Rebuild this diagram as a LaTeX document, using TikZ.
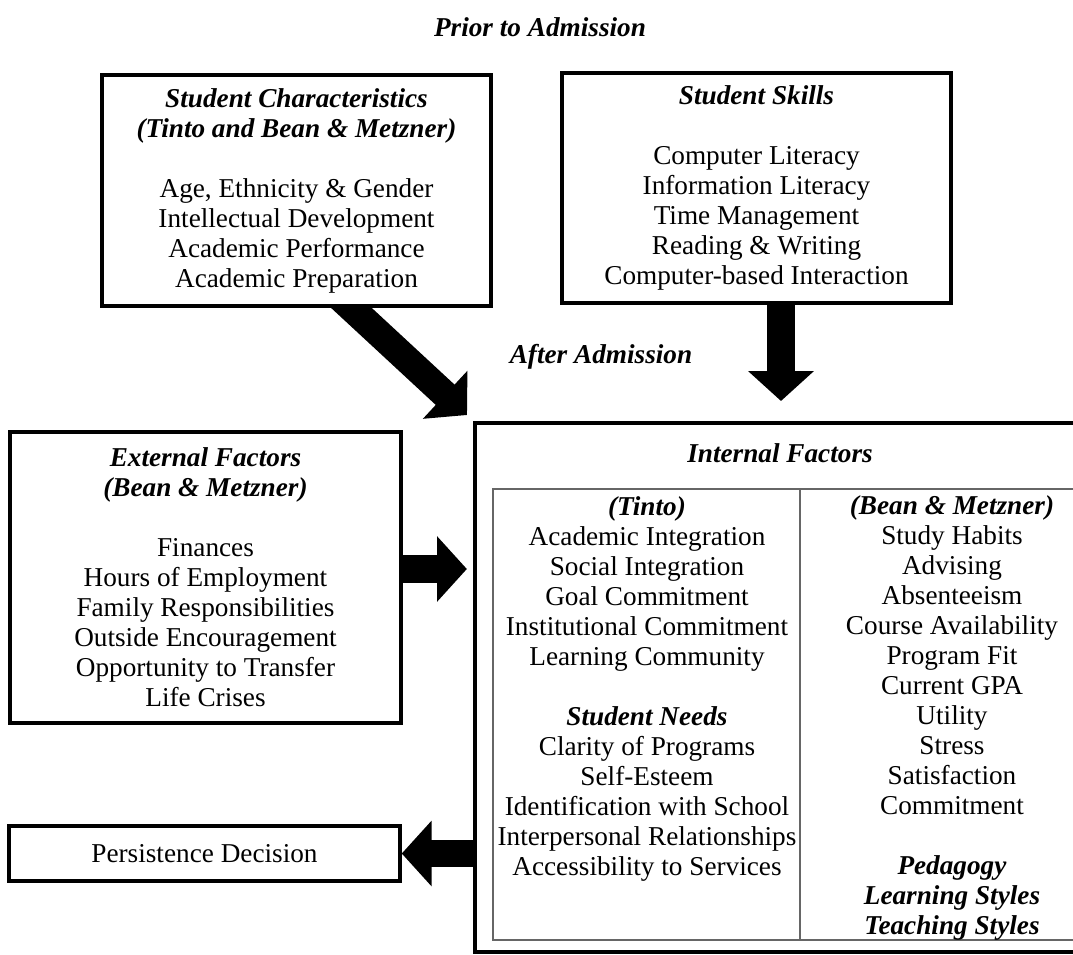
\documentclass[tikz,border=0pt]{standalone}
\usepackage{fontspec}
\setmainfont{Liberation Serif}
\usetikzlibrary{arrows.meta,backgrounds}
\newcommand{\hd}[1]{\textbf{\textit{#1}}}
\tikzset{every node/.style={font=\fontsize{12.8}{14.1}\selectfont},
  factorbox/.style={draw, line width=1.6pt, fill=white, align=center, inner sep=0pt},
  stage/.style={font=\fontsize{12.8}{14.1}\selectfont\bfseries\itshape},
  column/.style={align=center, inner sep=0pt},
  fatarrow/.style={line width=13pt, -{Triangle[length=14pt,width=30pt]}},
  tableline/.style={draw=black!60, line width=0.7pt}}

\begin{document}
\begin{tikzpicture}[x=0.47pt,y=-0.47pt]
  \useasboundingbox (0,0) rectangle (1073,954);
  % prior to admission
  \node[stage] (prior) at (540,27) {Prior to Admission};
  \node[factorbox, minimum width=182.8pt, minimum height=108.6pt] (chars) at (296.5,190.5)
    {\hd{Student Characteristics}\\ \hd{(Tinto and Bean \& Metzner)}\\[14.1pt]
     Age, Ethnicity \& Gender\\ Intellectual Development\\ Academic Performance\\ Academic Preparation};
  \node[factorbox, minimum width=182.8pt, minimum height=108.1pt] (skills) at (756.5,188)
    {\hd{Student Skills}\\[14.1pt]
     Computer Literacy\\ Information Literacy\\ Time Management\\ Reading \& Writing\\ Computer-based Interaction};
  % after admission
  \node[stage] (after) at (601,357) {After Admission};
  \node[factorbox, minimum width=183.8pt, minimum height=136.8pt] (ext) at (205.5,577.5)
    {\hd{External Factors}\\ \hd{(Bean \& Metzner)}\\[14.1pt]
     Finances\\ Hours of Employment\\ Family Responsibilities\\ Outside Encouragement\\ Opportunity to Transfer\\ Life Crises};
  \node[factorbox, minimum width=183.8pt, minimum height=25.9pt] (pd) at (204.5,853.5) {Persistence Decision};
  \begin{scope}
    \clip (0,0) rectangle (1073,954);
    \node[factorbox, minimum width=289.1pt, minimum height=248.6pt] (int) at (782.5,687.5) {};
    \draw[tableline] (493,489) rectangle (1080,940);
    \draw[tableline] (800,489) -- (800,940);
  \end{scope}
  \node[stage] (inttitle) at (780,453) {Internal Factors};
  \node[column] (tinto) at (647,689)
    {\hd{(Tinto)}\\ Academic Integration\\ Social Integration\\ Goal Commitment\\ Institutional Commitment\\ Learning Community\\[14.1pt]
     \hd{Student Needs}\\ Clarity of Programs\\ Self-Esteem\\ Identification with School\\ Interpersonal Relationships\\ Accessibility to Services};
  \node[column] (bean) at (952,718)
    {\hd{(Bean \& Metzner)}\\ Study Habits\\ Advising\\ Absenteeism\\ Course Availability\\ Program Fit\\ Current GPA\\ Utility\\ Stress\\ Satisfaction\\ Commitment\\[14.1pt]
     \hd{Pedagogy}\\ \hd{Learning Styles}\\ \hd{Teaching Styles}};
  % arrows
  \coordinate (charfoot) at (290,251);
  \coordinate (chartip) at (467,415);
  \coordinate (skilltip) at (781,401);
  \begin{scope}[on background layer]
    \draw[fatarrow] (charfoot) -- (chartip);
    \draw[fatarrow] (skills.south -| skilltip) -- (skilltip);
  \end{scope}
  \draw[fatarrow, shorten >=3pt] ([yshift=4pt]ext.east) -- ([yshift=4pt]ext.east -| int.west);
  \draw[fatarrow] (int.west |- pd.east) -- (pd.east);
\end{tikzpicture}
\end{document}
